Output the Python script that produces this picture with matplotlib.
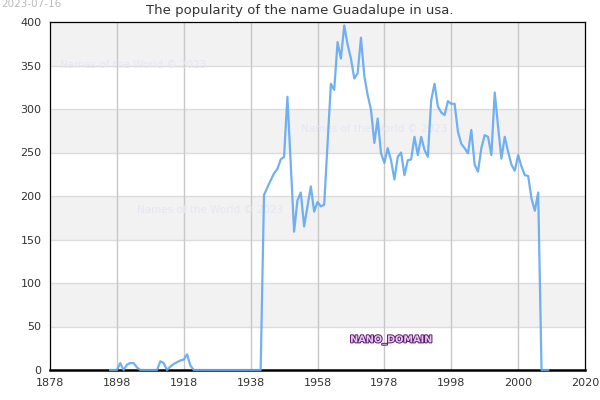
import numpy as np
import matplotlib
matplotlib.use("Agg")
import matplotlib.pyplot as plt
import matplotlib.patheffects as pe

# popularity values, one point per year
early_years = list(range(1896, 1942))
early_vals = [0, 0, 0, 8, 0, 6, 8, 8, 3, 0,
              0, 0, 0, 0, 0, 10, 8, 0, 4, 7,
              9, 11, 12, 18, 5, 0, 0, 0, 0, 0,
              0, 0, 0, 0, 0, 0, 0, 0, 0, 0,
              0, 0, 0, 0, 0, 0]
late_years = list(range(1942, 2028))
late_vals = [201, 210, 218, 226, 231, 242, 245, 314, 237, 159,
             195, 204, 165, 188, 211, 182, 193, 188, 190, 260,
             329, 322, 377, 358, 396, 374, 358, 335, 341, 382,
             338, 316, 299, 261, 289, 249, 238, 255, 241, 219,
             245, 250, 224, 241, 242, 268, 247, 268, 253, 245,
             310, 329, 303, 296, 293, 309, 306, 306, 274, 260,
             255, 249, 276, 236, 228, 255, 270, 268, 247, 319,
             280, 243, 268, 251, 236, 229, 247, 234, 224, 223,
             197, 183, 204, 0, 0, 0]

years = early_years + late_years
values = early_vals + late_vals

tick_pos = [1878, 1898, 1918, 1938, 1958, 1978, 1998, 2018, 2038]
tick_labels = ['1878', '1898', '1918', '1938', '1958', '1978', '1998', '2000', '2020']
y_ticks = [0, 50, 100, 150, 200, 250, 300, 350, 400]

fig = plt.figure(figsize=(6, 4), dpi=100)
ax = fig.add_axes([50/600, 30/400, 535/600, 348/400])

# alternating background bands
for i in range(8):
    if i % 2 == 1:
        ax.axhspan(i*50, (i+1)*50, color='#f2f2f2', zorder=0, lw=0)

for y in y_ticks[1:-1]:
    ax.axhline(y, color='#dcdcdc', lw=1, zorder=1)
for x in tick_pos[1:-1]:
    ax.axvline(x, color='#c8c8c8', lw=1, zorder=1)

ax.plot(years, values, color='#62a8f0', lw=1.6, alpha=0.9, zorder=3, clip_on=False)

ax.set_xlim(1878, 2038)
ax.set_ylim(0, 400)
ax.set_xticks(tick_pos)
ax.set_xticklabels(tick_labels)
ax.set_yticks(y_ticks)
ax.tick_params(length=0, labelsize=8, colors='#333333', pad=6)
for s in ['top', 'right', 'left']:
    ax.spines[s].set_color('black')
    ax.spines[s].set_linewidth(0.9)
ax.spines['bottom'].set_linewidth(1.8)
ax.spines['bottom'].set_zorder(2)

# watermarks
wm = dict(color='#e6e6f5', fontsize=7.5, zorder=2)
ax.text(1881, 347, 'Names of the World © 2023', **wm)
ax.text(1904, 181, 'Names of the World © 2023', **wm)
ax.text(1953, 274, 'Names of the World © 2023', **wm)

t = ax.text(1980, 35, 'NANO_DOMAIN', ha='center', va='center', fontsize=7,
            color='#e8c8f0', fontweight='bold', zorder=4)
t.set_path_effects([pe.withStroke(linewidth=1.4, foreground='#5a1a6a')])

fig.text(0.5, 0.973, 'The popularity of the name Guadalupe in usa.',
         ha='center', va='center', fontsize=9.5, color='#333333')
fig.text(0.002, 0.99, '2023-07-16', ha='left', va='center', fontsize=7.5, color='#bbbbbb')

fig.savefig('out.png', dpi=100)
